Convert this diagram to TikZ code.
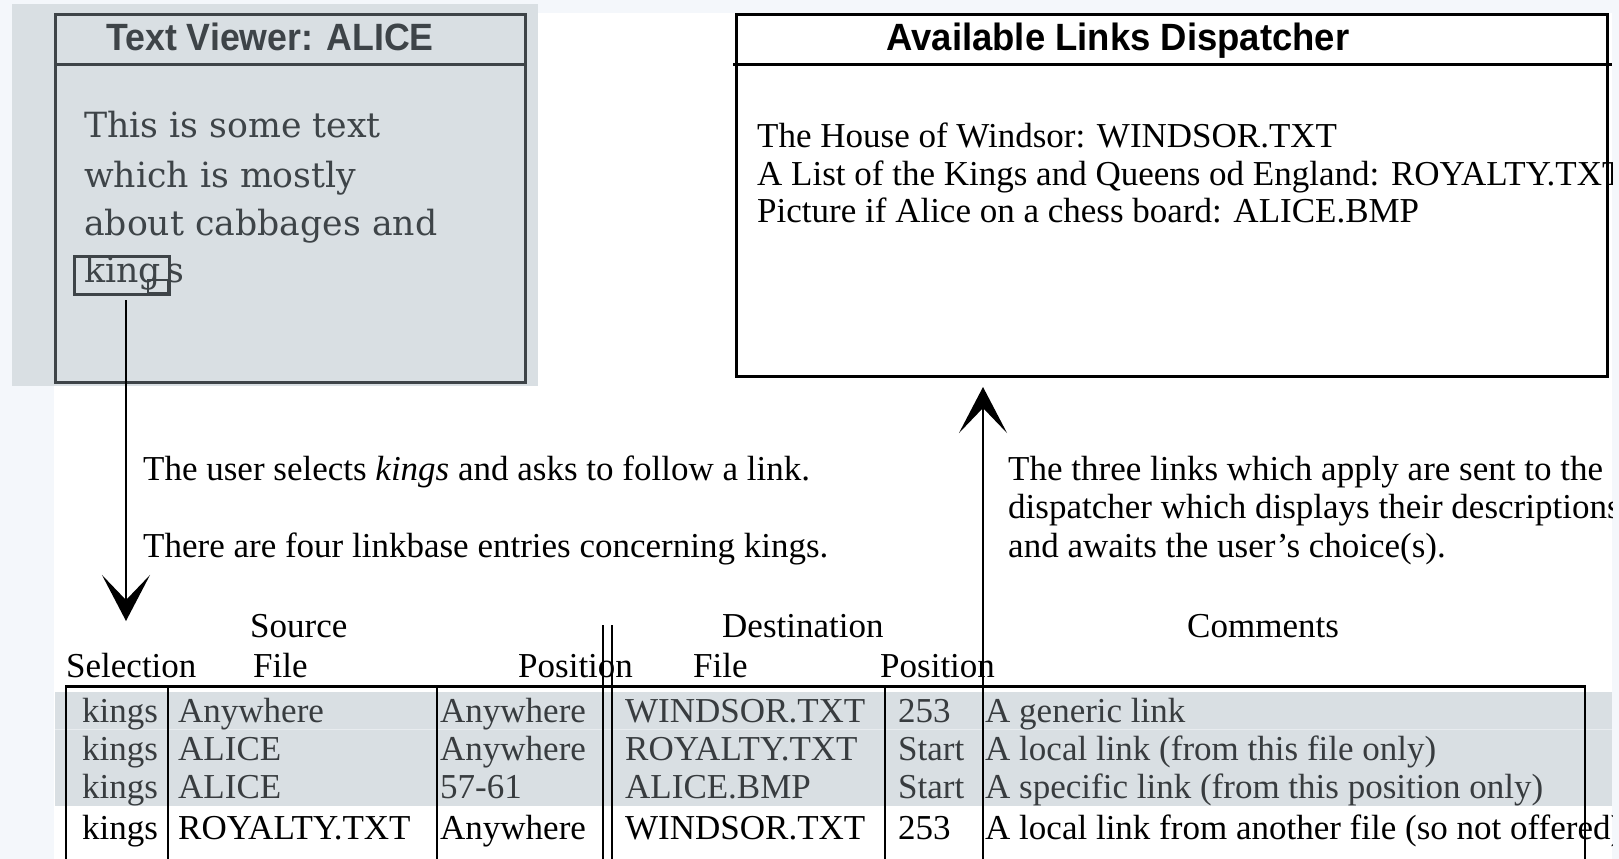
\documentclass[tikz,border=0pt]{standalone}
\usepackage{fontspec}
\usepackage{graphicx}
\setmainfont{Liberation Serif}
\newfontfamily\viewfont{DejaVu Serif}
\newfontfamily\headfont{Liberation Sans}
\usetikzlibrary{arrows.meta}

\definecolor{pale}{HTML}{F4F7FB}
\definecolor{panel}{HTML}{D9DFE3}
\definecolor{ink}{HTML}{3E4448}
\definecolor{rowink}{HTML}{383C3F}
\definecolor{rowrule}{HTML}{E8ECEF}

\tikzset{
  txt/.style={anchor=base west, inner sep=0pt, font=\fontsize{35}{38}\selectfont},
  greytxt/.style={txt, text=rowink},
  vtxt/.style={anchor=base west, inner sep=0pt, text=ink,
               font=\viewfont\fontsize{34.7}{36}\selectfont},
  title/.style={anchor=base, inner sep=0pt},
  winbox/.style={draw, line width=3pt, anchor=north west, inner sep=0pt},
  rule/.style={line width=2.2pt},
  arr/.style={line width=2.2pt, -{Stealth[length=46pt,width=48pt,inset=25pt]}},
}

\begin{document}
\begin{tikzpicture}[x=1pt,y=-1pt]
\useasboundingbox (0,0) rectangle (1619,859);
\fill[pale] (0,0) rectangle (1619,859);

\begin{scope}
\clip (0,0) rectangle (1612,859);
\fill[white] (54,13) rectangle (1612,859);
\fill[panel] (12,4) rectangle (538,386);

% ---- text viewer window ----
\node[winbox, draw=ink, minimum width=470pt, minimum height=368pt] (viewer) at (54,13) {};
\draw[ink, line width=3pt] (54,65) -- (527,65);
\node[title, text=ink] (viewtitle) at (270,51)
  {\scalebox{0.94}[1]{\headfont\bfseries\fontsize{38}{40}\selectfont Text Viewer: ALICE}};
\node[vtxt] (vline1) at (84,137) {This is some text};
\node[vtxt] (vline2) at (84,187) {which is mostly};
\node[vtxt] (vline3) at (84,235) {about cabbages and};
\node[vtxt] (vline4) at (84,282) {king\kern6pt s};
\node[draw=ink, line width=2.5pt, anchor=north west, inner sep=0pt,
      minimum width=95pt, minimum height=38pt] (kingsel) at (73,255) {};
\draw[ink, line width=2pt] (148,280) rectangle (168,293);

% ---- dispatcher window ----
\node[winbox, draw=black, minimum width=871pt, minimum height=362pt] (dispatcher) at (735,13) {};
\draw[black, line width=3pt] (733,65) -- (1612,65);
\node[title] (disptitle) at (1118,51)
  {\scalebox{0.96}[1]{\headfont\bfseries\fontsize{38}{40}\selectfont Available Links Dispatcher}};
\node[txt] (dline1) at (757,147) {The House of Windsor: WINDSOR.TXT};
\node[txt] (dline2) at (757,185) {A List of the Kings and Queens od England: ROYALTY.TXT};
\node[txt] (dline3) at (757,222) {Picture if Alice on a chess board: ALICE.BMP};

% ---- notes beside the arrows ----
\node[txt] (selnote1) at (143,480) {The user selects \textit{kings} and asks to follow a link.};
\node[txt] (selnote2) at (143,557) {There are four linkbase entries concerning kings.};
\node[txt] (dspnote1) at (1008,480) {The three links which apply are sent to the};
\node[txt] (dspnote2) at (1008,518) {dispatcher which displays their descriptions};
\node[txt] (dspnote3) at (1008,557) {and awaits the user's choice(s).};

% ---- linkbase table ----
\fill[panel] (55,692) rectangle (1612,806);
\draw[rowrule, line width=1pt] (55,729) -- (1612,729);

\node[txt] (hsource) at (250,637) {Source};
\node[txt] (hdest)   at (722,637) {Destination};
\node[txt] (hcomm)   at (1187,637) {Comments};
\node[txt] (hsel)    at (66,677) {Selection};
\node[txt] (hsfile)  at (253,677) {File};
\node[txt] (hspos)   at (518,677) {Position};
\node[txt] (hdfile)  at (693,677) {File};
\node[txt] (hdpos)   at (880,677) {Position};

\draw[line width=3pt] (65,686.5) -- (1586,686.5);
\draw[rule] (66,686) -- (66,859);
\draw[rule] (168,686) -- (168,859);
\draw[rule] (437,686) -- (437,859);
\draw[rule] (603,625) -- (603,859);
\draw[rule] (612,625) -- (612,859);
\draw[rule] (885,686) -- (885,859);
\draw[rule] (1585,686) -- (1585,859);

% rows 1-3 (offered links)
\node[greytxt] (r1sel)  at (82,722)  {kings};
\node[greytxt] (r1sf)   at (178,722) {Anywhere};
\node[greytxt] (r1sp)   at (440,722) {Anywhere};
\node[greytxt] (r1df)   at (625,722) {WINDSOR.TXT};
\node[greytxt] (r1dp)   at (898,722) {253};
\node[greytxt] (r1c)    at (985,722) {A generic link};

\node[greytxt] (r2sel)  at (82,760)  {kings};
\node[greytxt] (r2sf)   at (178,760) {ALICE};
\node[greytxt] (r2sp)   at (440,760) {Anywhere};
\node[greytxt] (r2df)   at (625,760) {ROYALTY.TXT};
\node[greytxt] (r2dp)   at (898,760) {Start};
\node[greytxt] (r2c)    at (985,760) {A local link (from this file only)};

\node[greytxt] (r3sel)  at (82,798)  {kings};
\node[greytxt] (r3sf)   at (178,798) {ALICE};
\node[greytxt] (r3sp)   at (440,798) {57-61};
\node[greytxt] (r3df)   at (625,798) {ALICE.BMP};
\node[greytxt] (r3dp)   at (898,798) {Start};
\node[greytxt] (r3c)    at (985,798) {A specific link (from this position only)};

% row 4 (not offered)
\node[txt] (r4sel)  at (82,839)  {kings};
\node[txt] (r4sf)   at (178,839) {ROYALTY.TXT};
\node[txt] (r4sp)   at (440,839) {Anywhere};
\node[txt] (r4df)   at (625,839) {WINDSOR.TXT};
\node[txt] (r4dp)   at (898,839) {253};
\node[txt] (r4c)    at (985,839) {A local link from another file (so not offered)};

% ---- connectors ----
\coordinate (selfoot) at (126,300);
\coordinate (tablein) at (126,621);
\coordinate (tableout) at (983,859);
\coordinate (dispin) at (983,387);
\draw[arr] (selfoot) -- (tablein);
\draw[arr] (tableout) -- (dispin);
\end{scope}
\end{tikzpicture}
\end{document}
